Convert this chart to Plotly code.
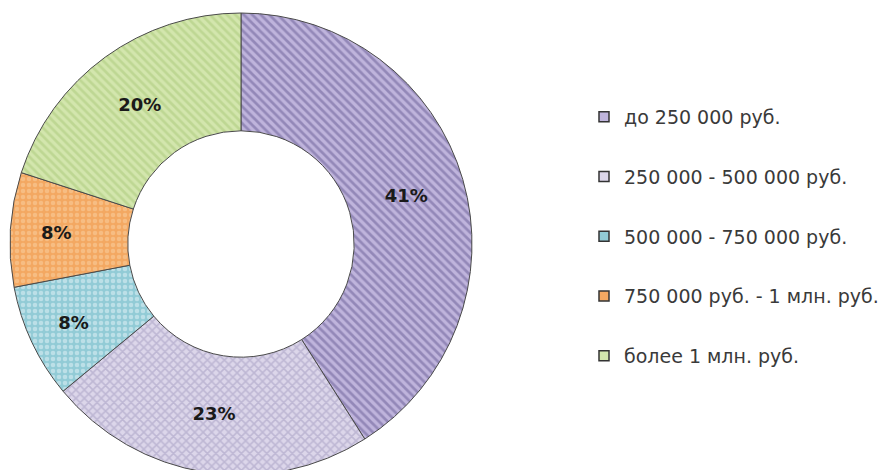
import plotly.graph_objects as go

labels = ["до 250 000 руб.", "250 000 - 500 000 руб.", "500 000 - 750 000 руб.",
          "750 000 руб. - 1 млн. руб.", "более 1 млн. руб."]
values = [41, 23, 8, 8, 20]

bg_colors = ["#bfb4dc", "#dcd6ea", "#92cbd6", "#f3a862", "#d3e6ad"]
fg_colors = ["#685c94", "#9f97bd", "#e6f4f7", "#fad2a4", "#a9c77a"]
shapes = ["\\", "x", ".", ".", "\\"]

fig = go.Figure()
fig.add_trace(go.Pie(
    labels=labels, values=values, sort=False, direction="clockwise", rotation=0,
    hole=0.49,
    domain=dict(x=[2/892, 464/892], y=[3/470, 465/470]),
    marker=dict(colors=bg_colors,
                line=dict(color="#4a4a4a", width=1),
                pattern=dict(shape=shapes, fgcolor=fg_colors, bgcolor=bg_colors,
                             size=6, solidity=0.45, fillmode="overlay")),
    texttemplate="<b>%{value}%</b>", textposition="inside", insidetextorientation="horizontal",
    textfont=dict(family="DejaVu Sans", size=18, color="#1a1a1a"),
    showlegend=False, hoverinfo="label+percent",
))

for i, (lab, c) in enumerate(zip(labels, bg_colors)):
    fig.add_trace(go.Scatter(
        x=[None], y=[None], mode="markers", name=lab, legendgroup=f"g{i}",
        marker=dict(symbol="square", size=10, color=c, line=dict(color="#333333", width=1.5)),
        showlegend=True,
    ))

fig.update_layout(
    width=892, height=470, margin=dict(l=0, r=0, t=0, b=0),
    paper_bgcolor="white", plot_bgcolor="white",
    xaxis=dict(visible=False), yaxis=dict(visible=False),
    legend=dict(x=576/892, y=1 - 90/470, xanchor="left", yanchor="top",
                tracegroupgap=32, itemwidth=30,
                font=dict(family="DejaVu Sans", size=19, color="#3a3a3a"),
                bgcolor="rgba(0,0,0,0)"),
)
fig.write_html("out.html")
